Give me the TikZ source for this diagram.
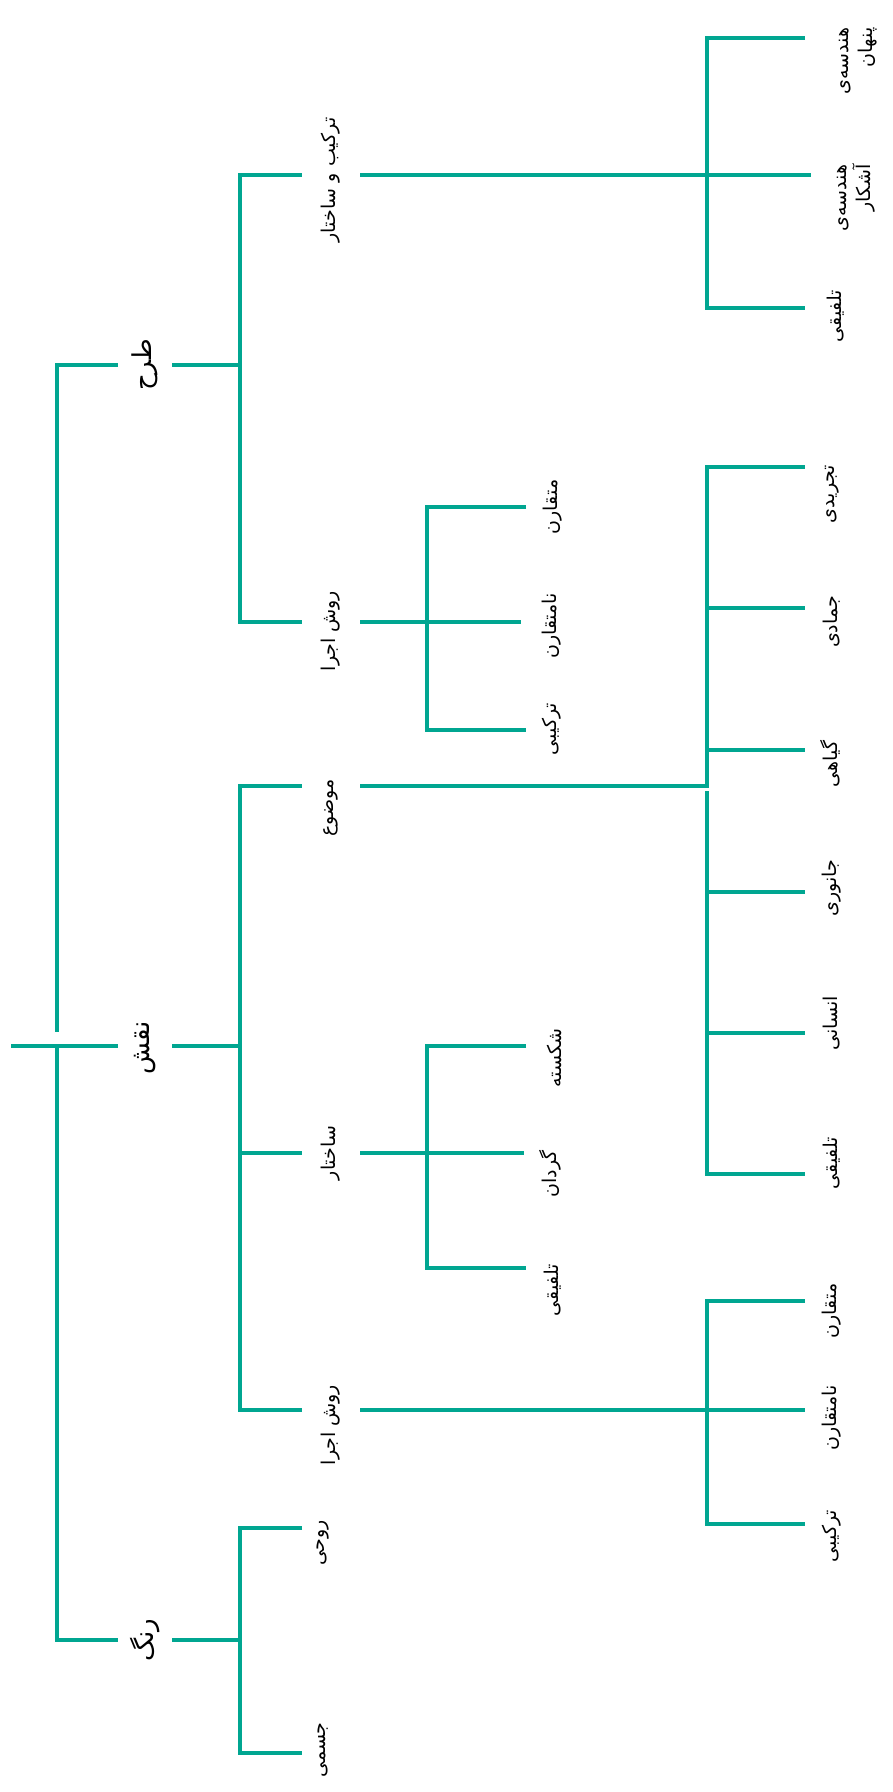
\documentclass[tikz,border=0pt]{standalone}
\usepackage{fontspec}
\newfontfamily\fa[Script=Arabic]{DejaVu Sans}
\TeXXeTstate=1
\definecolor{tealbr}{RGB}{0,166,145}
\tikzset{
  br/.style={draw=tealbr, line width=4pt},
  lab/.style={rotate=90, inner sep=0pt, font=\fa\fontsize{19}{24}\selectfont},
  gapone/.style={lab, minimum height=54pt, font=\fa\fontsize{26}{30}\selectfont},
  gaptwo/.style={lab, minimum height=58pt},
}
\begin{document}
\begin{tikzpicture}[x=1pt,y=1pt]
\fill[white] (0,0) rectangle (893,-1792);
\useasboundingbox (0,0) rectangle (893,-1792);

% junctions and free ends
\coordinate (R0) at (11,-1046);
\coordinate (Rg) at (57,-1032);
\coordinate (R) at (57,-1046);
\coordinate (T2) at (240,-365);
\coordinate (N2) at (240,-1046);
\coordinate (G2) at (240,-1640);
\coordinate (H2) at (240,-175);
\coordinate (V2) at (240,-622);
\coordinate (V3) at (240,-786);
\coordinate (V4) at (240,-1410);
\coordinate (S2) at (240,-1153);
\coordinate (J1) at (707,-175);
\coordinate (L1) at (805,-38);
\coordinate (L2) at (811,-175);
\coordinate (L3) at (805,-308);
\coordinate (J2) at (427,-622);
\coordinate (M1) at (526,-507);
\coordinate (M2) at (521,-622);
\coordinate (M3) at (526,-730);
\coordinate (J4) at (707,-786);
\coordinate (J4b) at (707,-791);
\coordinate (Z1) at (805,-467);
\coordinate (Z2) at (805,-608);
\coordinate (Z3) at (805,-750);
\coordinate (Z4) at (805,-892);
\coordinate (Z5) at (805,-1033);
\coordinate (Z6) at (805,-1174);
\coordinate (J5) at (427,-1153);
\coordinate (K1) at (526,-1046);
\coordinate (K2) at (524,-1153);
\coordinate (K3) at (526,-1268);
\coordinate (J6) at (707,-1410);
\coordinate (P1) at (805,-1301);
\coordinate (P2) at (805,-1410);
\coordinate (P3) at (805,-1524);
\coordinate (Q1) at (302,-1528);
\coordinate (Q2) at (302,-1753);

% level 1 labels
\node[gapone] (tarh) at (145,-365) {\beginR طرح\endR};
\node[gapone] (naqsh) at (145,-1048) {\beginR نقش\endR};
\node[gapone] (rang) at (145,-1640) {\beginR رنگ\endR};

% level 2 labels
\node[gaptwo] (tarkib) at (331,-180) {\beginR ترکیب و ساختار\endR};
\node[gaptwo] (ravesha) at (331,-631) {\beginR روش اجرا\endR};
\node[gaptwo] (mozu) at (331,-808) {\beginR موضوع\endR};
\node[gaptwo] (sakht) at (331,-1153) {\beginR ساختار\endR};
\node[gaptwo] (raveshb) at (331,-1425) {\beginR روش اجرا\endR};
\node[lab] (ruhi) at (323,-1543) {\beginR روحی\endR};
\node[lab] (jesmi) at (323,-1750) {\beginR جسمی\endR};

% level 3 labels
\node[lab] (motA) at (553,-507) {\beginR متقارن\endR};
\node[lab] (namA) at (552,-626) {\beginR نامتقارن\endR};
\node[lab] (tarA) at (552,-729) {\beginR ترکیبی\endR};
\node[lab] (shek) at (554,-1058) {\beginR شکسته\endR};
\node[lab] (gard) at (550,-1174) {\beginR گردان\endR};
\node[lab] (talA) at (553,-1290) {\beginR تلفیقی\endR};

% level 4 labels
\node[lab, align=right] (hpen) at (858,-61) {\beginR هندسه^^^^200cی\endR\\\beginR پنهان\endR};
\node[lab, align=right] (hash) at (856,-198) {\beginR هندسه^^^^200cی\endR\\\beginR آشکار\endR};
\node[lab] (talB) at (836,-316) {\beginR تلفیقی\endR};
\node[lab] (tajr) at (832,-494) {\beginR تجریدی\endR};
\node[lab] (jama) at (832,-622) {\beginR جمادی\endR};
\node[lab] (giya) at (830,-764) {\beginR گیاهی\endR};
\node[lab] (jana) at (832,-888) {\beginR جانوری\endR};
\node[lab] (ensa) at (832,-1023) {\beginR انسانی\endR};
\node[lab] (talC) at (832,-1163) {\beginR تلفیقی\endR};
\node[lab] (motB) at (832,-1311) {\beginR متقارن\endR};
\node[lab] (namB) at (832,-1418) {\beginR نامتقارن\endR};
\node[lab] (tarB) at (832,-1536) {\beginR ترکیبی\endR};

% root
\draw[br] (R0) -- (R0 -| naqsh.north);
\draw[br] (R0 -| naqsh.south) -- (N2);
\draw[br] (T2 -| tarh.north) -| (Rg);
\draw[br] (R) |- (G2 -| rang.north);
\draw[br] (T2 -| tarh.south) -- (T2);
\draw[br] (G2 -| rang.south) -- (G2);

% tarh branch
\draw[br] (H2 -| tarkib.north) -| (T2) |- (V2 -| ravesha.north);
\draw[br] (J1 -| tarkib.south) -- (L2);
\draw[br] (L1) -| (J1) |- (L3);
\draw[br] (J2 -| ravesha.south) -- (M2);
\draw[br] (M1) -| (J2) |- (M3);

% naqsh branch
\draw[br] (V3 -| mozu.north) -| (N2) |- (V4 -| raveshb.north);
\draw[br] (S2) -- (S2 -| sakht.north);
\draw[br] (S2 -| sakht.south) -- (K2);
\draw[br] (K1) -| (J5) |- (K3);
\draw[br] (J4 -| mozu.south) -- (J4) |- (Z1);
\draw[br] (Z2 -| J4) -- (Z2);
\draw[br] (Z3 -| J4) -- (Z3);
\draw[br] (J4b) |- (Z6);
\draw[br] (Z4 -| J4) -- (Z4);
\draw[br] (Z5 -| J4) -- (Z5);
\draw[br] (J6 -| raveshb.south) -- (P2);
\draw[br] (P1) -| (J6) |- (P3);

% rang branch
\draw[br] (Q1) -| (G2) |- (Q2);
\end{tikzpicture}
\end{document}
